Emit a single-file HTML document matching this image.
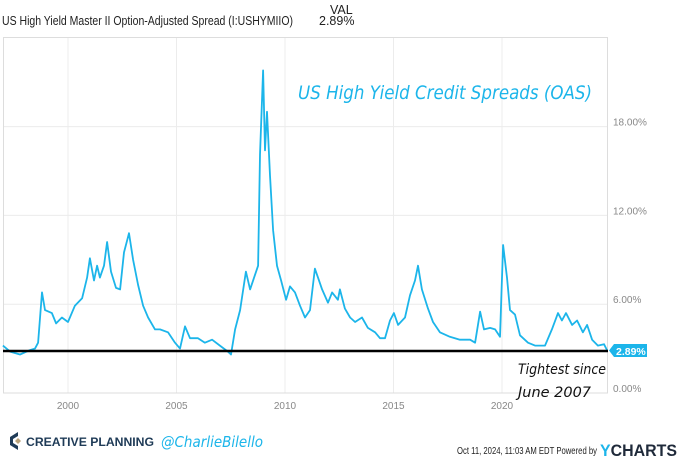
<!DOCTYPE html>
<html><head><meta charset="utf-8"><style>
body{margin:0;width:680px;height:460px;background:#fff;overflow:hidden;font-family:"Liberation Sans",sans-serif;}
svg{display:block}
</style></head><body>
<svg width="680" height="460" id="chart">
<text x="2" y="25" font-size="12.5" fill="#222" textLength="291" lengthAdjust="spacingAndGlyphs">US High Yield Master II Option-Adjusted Spread (I:USHYMIIO)</text>
<text x="330" y="14" font-size="12.5" fill="#222">VAL</text>
<text x="319" y="25" font-size="12.5" fill="#222">2.89%</text>
<g id="grid"></g>
<rect x="3.5" y="37.5" width="604" height="355.5" fill="none" stroke="#ddd"/>
<g id="yt"></g>
<g id="xt"></g>
<path id="line" fill="none" stroke="#1cb5ea" stroke-width="1.8" stroke-linejoin="round"/>
<line x1="3" y1="351" x2="608" y2="351" stroke="#000" stroke-width="2.5"/>
<g><path d="M609 350.5 L614 344 H647 V357 H614 Z" fill="#1cb5ea"/><text x="616" y="355" font-size="10.5" font-weight="bold" fill="#fff">2.89%</text></g>
<text x="298" y="99" font-size="19" fill="#1cb5ea" font-family="'DejaVu Sans',sans-serif" font-style="oblique" textLength="294" lengthAdjust="spacingAndGlyphs">US High Yield Credit Spreads (OAS)</text>
<text x="518" y="374" font-size="14" fill="#111" font-family="'DejaVu Sans',sans-serif" font-style="oblique" textLength="88" lengthAdjust="spacingAndGlyphs">Tightest since</text>
<text x="518" y="397" font-size="14" fill="#111" font-family="'DejaVu Sans',sans-serif" font-style="oblique" textLength="73" lengthAdjust="spacingAndGlyphs">June 2007</text>
<g><path d="M18 432 L10 437 V445 L18 450 L18 446 L13 443 V439 L18 436 Z" fill="#1f3b57"/><path d="M15 441 L18 438 L21 441 L18 444 Z" fill="#b9a27a"/></g>
<text x="26" y="446" font-size="11.5" font-weight="bold" fill="#1f3b57" textLength="128" lengthAdjust="spacingAndGlyphs">CREATIVE PLANNING</text>
<text x="161" y="447" font-size="15" fill="#1cb5ea" font-family="'DejaVu Sans',sans-serif" font-style="oblique" textLength="102" lengthAdjust="spacingAndGlyphs">@CharlieBilello</text>
<text x="457" y="454" font-size="10.5" fill="#222" textLength="140" lengthAdjust="spacingAndGlyphs">Oct 11, 2024, 11:03 AM EDT Powered by</text>
<text x="600" y="456" font-size="17" font-weight="bold" fill="#1f2a3a" textLength="77" lengthAdjust="spacingAndGlyphs"><tspan fill="#1cb5ea">Y</tspan>CHARTS</text>
</svg>
<script>
const years=[1997.0,1997.33,1997.79,1998.25,1998.48,1998.62,1998.8,1998.94,1999.26,1999.45,1999.72,2000.0,2000.32,2000.65,2000.88,2001.01,2001.2,2001.34,2001.47,2001.66,2001.8,2001.98,2002.21,2002.4,2002.58,2002.81,2003.0,2003.23,2003.46,2003.69,2004.01,2004.24,2004.61,2004.93,2005.16,2005.39,2005.62,2005.99,2006.31,2006.64,2007.0,2007.37,2007.51,2007.7,2007.93,2008.2,2008.39,2008.62,2008.76,2008.85,2008.99,2009.08,2009.17,2009.31,2009.45,2009.63,2009.82,2010.05,2010.23,2010.46,2010.69,2010.92,2011.15,2011.38,2011.52,2011.71,2011.98,2012.17,2012.44,2012.53,2012.76,2013.0,2013.23,2013.55,2013.82,2014.15,2014.38,2014.61,2014.84,2015.02,2015.21,2015.53,2015.76,2015.99,2016.13,2016.31,2016.59,2016.82,2017.14,2017.6,2018.06,2018.53,2018.76,2018.99,2019.17,2019.45,2019.68,2019.91,2020.05,2020.23,2020.37,2020.6,2020.83,2021.2,2021.52,2021.98,2022.3,2022.58,2022.76,2022.95,2023.23,2023.46,2023.73,2023.92,2024.15,2024.42,2024.7,2024.84];
const spreads=[3.2,2.8,2.6,2.9,3.0,3.4,6.8,5.6,5.4,4.7,5.1,4.8,5.9,6.4,7.8,9.1,7.6,8.6,7.8,8.6,10.2,8.2,7.1,7.0,9.5,10.8,9.0,7.3,5.9,5.1,4.3,4.3,4.1,3.4,3.0,4.5,3.7,3.7,3.4,3.6,3.2,2.8,2.6,4.3,5.6,8.2,7.0,8.0,8.6,16.1,21.8,16.4,19.0,14.7,11.0,8.6,7.6,6.3,7.2,6.8,5.9,5.1,5.6,8.4,7.8,7.0,6.1,6.8,6.3,7.0,5.7,5.1,4.8,5.1,4.4,4.1,3.7,3.7,4.9,5.4,4.6,5.1,6.6,7.6,8.6,7.0,5.7,4.8,4.1,3.8,3.6,3.6,3.4,5.5,4.3,4.4,4.3,3.8,10.0,7.8,5.6,5.3,3.9,3.4,3.2,3.2,4.3,5.4,4.9,5.4,4.6,4.9,4.1,4.6,3.6,3.2,3.3,2.9];
const yTicks=[0,6,12,18];
const yTickLabels=["0.00%","6.00%","12.00%","18.00%"];
const xTicks=[2000,2005,2010,2015,2020];
const NS="http://www.w3.org/2000/svg";
const xs=y=>68+(y-2000)*21.7;
const ys=v=>393-v*14.8;
const grid=document.getElementById('grid'),yt=document.getElementById('yt'),xt=document.getElementById('xt');
yTicks.forEach((t,i)=>{
  if(t>0){const l=document.createElementNS(NS,'line');
  l.setAttribute('x1',3);l.setAttribute('x2',608);l.setAttribute('y1',ys(t));l.setAttribute('y2',ys(t));l.setAttribute('stroke','#ececec');
  
  
  grid.appendChild(l);}
  const tx=document.createElementNS(NS,'text');
  tx.setAttribute('x',613);tx.setAttribute('y',ys(t)-1);tx.setAttribute('font-size','10');tx.setAttribute('fill','#888');
  tx.textContent=yTickLabels[i];
  
  
  yt.appendChild(tx);
});
xTicks.forEach(t=>{
  const l=document.createElementNS(NS,'line');
  l.setAttribute('x1',xs(t));l.setAttribute('x2',xs(t));l.setAttribute('y1',37);l.setAttribute('y2',393);l.setAttribute('stroke','#ececec');
  
  
  grid.appendChild(l);
  const tx=document.createElementNS(NS,'text');
  tx.setAttribute('x',xs(t));tx.setAttribute('y',409);tx.setAttribute('font-size','10');tx.setAttribute('fill','#888');tx.setAttribute('text-anchor','middle');
  tx.textContent=t;
  
  
  xt.appendChild(tx);
});
document.getElementById('line').setAttribute('d',years.map((y,i)=>(i?'L':'M')+xs(y).toFixed(1)+' '+ys(spreads[i]).toFixed(1)).join(' '));
</script>
</body></html>
